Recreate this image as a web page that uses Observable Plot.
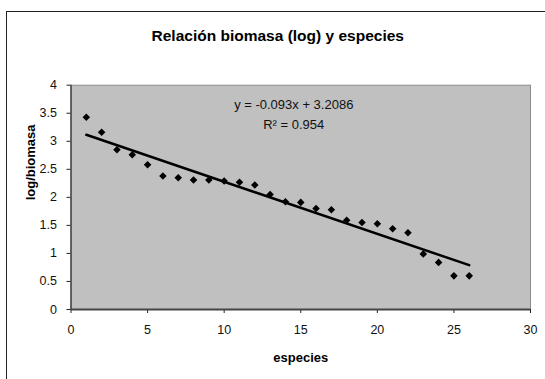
<!DOCTYPE html>
<html>
<head>
<meta charset="utf-8">
<script src="https://cdn.jsdelivr.net/npm/d3@7"></script>
<script src="https://cdn.jsdelivr.net/npm/@observablehq/plot@0.6"></script>
<style>
  html, body { margin: 0; padding: 0; background: #fff; overflow: hidden; }
  #wrap { position: relative; width: 545px; height: 379px; }
  #chart-border {
    position: absolute; left: 6px; top: 11px; width: 600px; height: 400px;
    border-left: 1.6px solid #222; border-top: 1.6px solid #222; pointer-events: none;
  }
</style>
</head>
<body>
<div id="wrap"><div id="chart-border"></div></div>
<script>
// Species rank (1..26) against log of biomass
const especies = [1, 2, 3, 4, 5, 6, 7, 8, 9, 10, 11, 12, 13, 14, 15, 16, 17, 18, 19, 20, 21, 22, 23, 24, 25, 26];
const logBiomasa = [3.43, 3.16, 2.85, 2.76, 2.58, 2.38, 2.35, 2.31, 2.31, 2.29, 2.27, 2.22, 2.05, 1.92, 1.91, 1.80, 1.78, 1.59, 1.55, 1.53, 1.44, 1.37, 0.99, 0.84, 0.60, 0.60];

// Linear trend as reported on the chart
const slope = -0.093;
const intercept = 3.2086;
const r2 = 0.954;

const xTicks = [0, 5, 10, 15, 20, 25, 30];
const yTicks = [0, 0.5, 1, 1.5, 2, 2.5, 3, 3.5, 4];

const title = "Relación biomasa (log) y especies";
const xLabel = "especies";
const yLabel = "log/biomasa";

const points = especies.map((x, i) => ({x, y: logBiomasa[i]}));
const xMin = d3.min(especies), xMax = d3.max(especies);
const trend = [xMin, xMax].map(x => ({x, y: slope * x + intercept}));
const eqText = `y = ${slope}x + ${intercept}`;
const r2Text = `R² = ${r2}`;

const font = "'Liberation Sans', Arial, sans-serif";

const chart = Plot.plot({
  width: 545,
  height: 379,
  marginLeft: 70.5,
  marginRight: 15,
  marginTop: 84.7,
  marginBottom: 70,
  style: {fontFamily: font, background: "transparent", color: "#111", overflow: "visible"},
  x: {domain: [0, 30]},
  y: {domain: [0, 4]},
  marks: [
    Plot.frame({fill: "#c0c0c0", stroke: "#8c8c8c", strokeWidth: 1}),
    Plot.axisX({ticks: xTicks, tickSize: 4, tickPadding: 12, fontSize: 12.5, label: null, stroke: "#222", tickFormat: d => String(d)}),
    Plot.axisY({ticks: yTicks, tickSize: 4, tickPadding: 10, fontSize: 12.5, label: null, stroke: "#222", tickFormat: d => String(d)}),
    Plot.ruleY([0], {stroke: "#444", strokeWidth: 2}),
    Plot.ruleX([0], {stroke: "#444", strokeWidth: 1.5}),
    Plot.line(trend, {x: "x", y: "y", stroke: "#000", strokeWidth: 2.5}),
    Plot.dot(points, {x: "x", y: "y", symbol: "diamond2", r: 3.4, fill: "#000", stroke: "none"}),
    Plot.text([eqText], {frameAnchor: "top", dx: -7, dy: 20, fontSize: 13, fill: "#111", lineAnchor: "middle"}),
    Plot.text([r2Text], {frameAnchor: "top", dx: -7, dy: 39.5, fontSize: 13, fill: "#111", lineAnchor: "middle"}),
    Plot.text([title], {frameAnchor: "top", dx: -23, dy: -49, fontSize: 15.5, fontWeight: "bold", fill: "#000", lineAnchor: "middle"}),
    Plot.text([xLabel], {frameAnchor: "bottom", dy: 48, fontSize: 13, fontWeight: "bold", fill: "#000", lineAnchor: "middle"}),
    Plot.text([yLabel], {frameAnchor: "left", dx: -40.5, dy: 3, rotate: -90, fontSize: 13, fontWeight: "bold", fill: "#000", lineAnchor: "middle"})
  ]
});

document.getElementById("wrap").prepend(chart);
chart.style.position = "absolute";
chart.style.left = "0";
chart.style.top = "0";
</script>
</body>
</html>
